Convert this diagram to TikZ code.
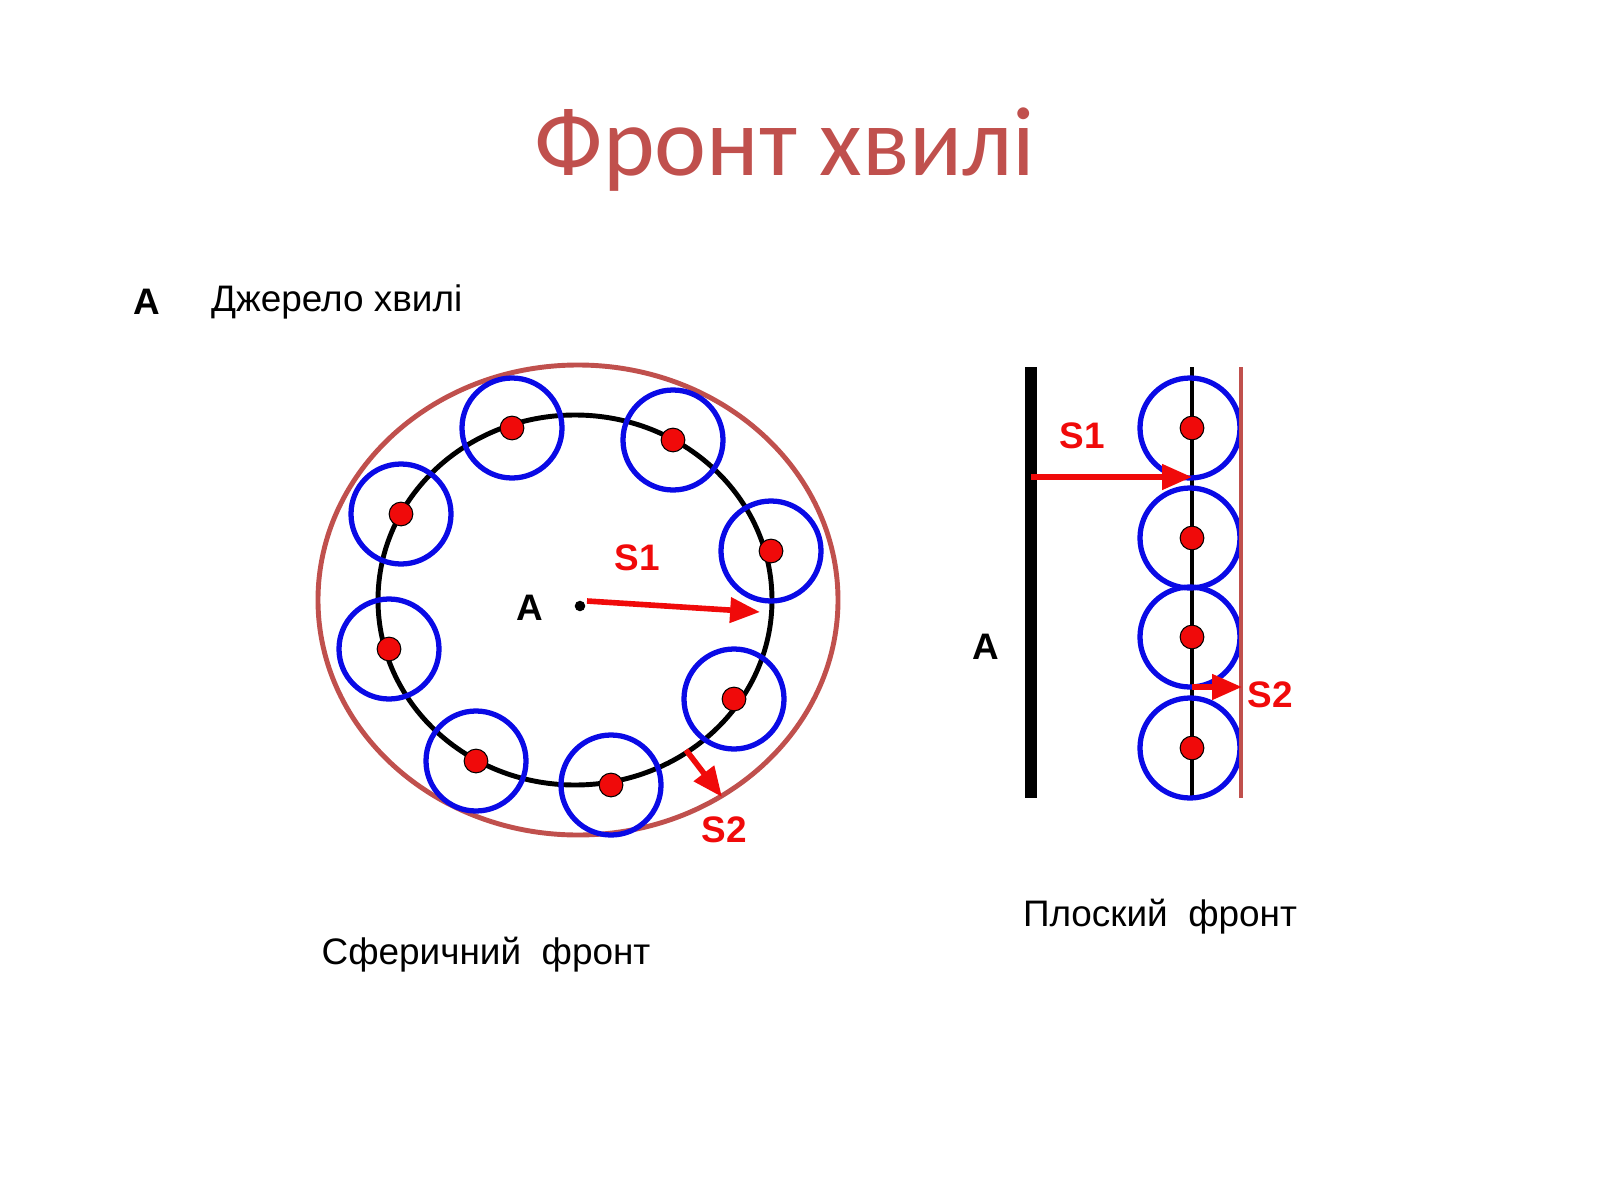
\documentclass[tikz,border=0pt]{standalone}
\usepackage{fontspec}
\setmainfont{Liberation Sans}
\newfontfamily\titlefont{Carlito}
\usetikzlibrary{arrows.meta}
\definecolor{brn}{RGB}{192,80,77}
\definecolor{blu}{RGB}{10,10,230}
\definecolor{rd}{RGB}{240,10,10}
\tikzset{
 wave/.style={draw=blu,line width=3pt},
 pt/.style={circle,fill=rd,draw=black,line width=0.6pt,minimum size=13.5pt,inner sep=0pt},
 ray/.style={draw=rd,line width=3.2pt,-{Triangle[length=17pt,width=14pt]}},
 lbl/.style={font=\fontsize{21}{24}\selectfont\bfseries,text=rd},
 captext/.style={font=\fontsize{21}{24}\selectfont}
}
\begin{document}
\begin{tikzpicture}[x=0.02cm,y=-0.02cm]
\useasboundingbox (0,0) rectangle (1600,1200);
\node[text=brn,font=\titlefont\fontsize{56}{66}\selectfont] (title) at (785,150) {Фронт хвилі};
\node[font=\fontsize{21}{24}\selectfont\bfseries] (leg) at (147,302) {А};
\node[captext,anchor=west] (legt) at (205,302) {Джерело хвилі};
% spherical
\draw[brn,line width=2.8pt] (578,600) ellipse [x radius=260,y radius=235];
\draw[black,line width=2.8pt] (575,600) ellipse [x radius=197,y radius=185];
\foreach \i/\x/\y in {1/512/428,2/673/440,3/771/551,4/734/699,5/611/785,6/476/761,7/389/649,8/401/514}{
 \draw[wave] (\x,\y) circle (50);
 \node[pt] (p\i) at (\x,\y) {};
}
\node[circle,fill=black,minimum size=6pt,inner sep=0pt] (src) at (580,606) {};
\node[font=\fontsize{21}{24}\selectfont\bfseries] (la) at (530,608) {А};
\coordinate (s1a) at (587,601); \coordinate (s1b) at (760,612);
\draw[ray] (s1a) -- (s1b);
\node[lbl] (ls1) at (637,558) {S1};
\coordinate (s2a) at (686,750); \coordinate (s2b) at (722,797);
\draw[ray] (s2a) -- (s2b);
\node[lbl] (ls2) at (724,830) {S2};
\node[captext] (c1) at (486,955) {Сферичний\ \ фронт};
% plane
\draw[black,line width=6.5pt] (1031,367) -- (1031,798);
\node[font=\fontsize{21}{24}\selectfont\bfseries] (lb) at (986,647) {А};
\draw[black,line width=2.8pt] (1192,367) -- (1192,798);
\foreach \i/\y in {1/428,2/538,3/637,4/748}{
 \draw[wave] (1190,\y) circle (50);
 \node[pt] (q\i) at (1192,\y) {};
}
\draw[brn,line width=2.4pt] (1241,367) -- (1241,798);
\coordinate (t1a) at (1031,477); \coordinate (t1b) at (1192,477);
\draw[ray] (t1a) -- (t1b);
\node[lbl] (lt1) at (1082,436) {S1};
\coordinate (t2a) at (1192,687); \coordinate (t2b) at (1242,687);
\draw[ray] (t2a) -- (t2b);
\node[lbl] (lt2) at (1270,695) {S2};
\node[captext] (c2) at (1160,917) {Плоский\ \ фронт};
\end{tikzpicture}
\end{document}
